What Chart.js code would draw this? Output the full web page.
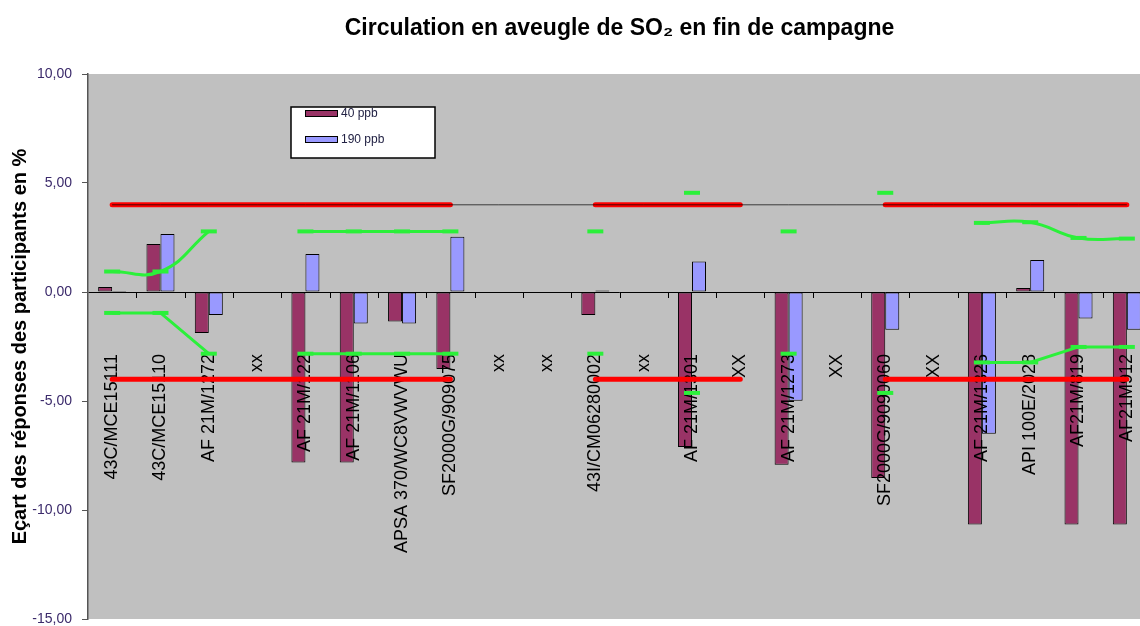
<!DOCTYPE html>
<html lang="fr">
<head>
<meta charset="UTF-8">
<title>Circulation en aveugle de SO2 en fin de campagne</title>
<script src="https://cdn.jsdelivr.net/npm/chart.js"></script>
<style>
  html, body { margin: 0; padding: 0; background: #fff; overflow: hidden; }
  #chart { display: block; }
</style>
</head>
<body>
<canvas id="chart" width="1160" height="626"></canvas>
<script>
// analyseurs (xx = pas de réponse)
const categories = [
  '43C/MCE15111', '43C/MCE15110', 'AF 21M/1272', 'xx', 'AF 21M/122', 'AF 21M/1106',
  'APSA 370/WC8VWVWU', 'SF2000G/909075', 'xx', 'xx', '43I/CM06280002', 'xx',
  'AF 21M/1301', 'XX', 'AF 21M/1273', 'XX', 'SF2000G/9090060', 'XX',
  'AF 21M/1326', 'API 100E/2028', 'AF21M/819', 'AF21M912'
];

const serie40 = [0.23, 2.2, -1.88, null, -7.82, -7.82, -1.35, -3.53, null, null, -1.06, null,
  -7.11, null, -7.92, null, -8.53, null, -10.67, 0.18, -10.67, -10.67];
const serie190 = [0.05, 2.66, -1.06, null, 1.74, -1.45, -1.45, 2.54, null, null, 0.07, null,
  1.4, null, -4.99, null, -1.73, null, -6.5, 1.47, -1.22, -1.73];

// limites +/- 4 %
const limiteHaut = [4, 4, 4, 4, 4, 4, 4, 4, null, null, 4, 4, 4, 4, null, null, 4, 4, 4, 4, 4, 4];
const limiteBas = [-4, -4, -4, -4, -4, -4, -4, -4, null, null, -4, -4, -4, -4, null, null, -4, -4, -4, -4, -4, -4];
const repere = [4, 4, 4, 4, 4, 4, 4, 4, 4, 4, 4, 4, 4, 4, 4, 4, 4, 4, 4, 4, 4, 4];

// incertitudes
const incertHaut = [0.94, 0.94, 2.78, null, 2.78, 2.78, 2.78, 2.78, null, null, 2.78, null,
  4.55, null, 2.78, null, 4.55, null, 3.17, 3.2, 2.48, 2.45];
const incertBas = [-0.96, -0.96, -2.83, null, -2.83, -2.83, -2.83, -2.83, null, null, -2.83, null,
  -4.63, null, -2.83, null, -4.63, null, -3.23, -3.23, -2.52, -2.52];

const yMin = -15, yMax = 10, yStep = 5;

const POLICE = '"Liberation Sans", Arial, sans-serif';
const VERT = '#2BF03A';

const decor = {
  id: 'decor',
  beforeDraw(chart) {
    const { ctx, chartArea: a } = chart;
    ctx.save();
    ctx.fillStyle = '#C0C0C0';
    ctx.fillRect(a.left, a.top, a.right - a.left, a.bottom - a.top);
    ctx.restore();
  },
  afterDatasetDraw(chart, args) {
    // étiquettes dessinées sur les barres, sous les lignes (la série 0 est dessinée en dernier)
    if (args.index !== 0) return;
    const ctx = chart.ctx, x = chart.scales.x, y = chart.scales.y;
    const y0 = y.getPixelForValue(0);
    ctx.save();
    ctx.strokeStyle = '#000';
    ctx.lineWidth = 1;
    for (let i = 1; i < categories.length; i++) {
      const px = Math.round((x.getPixelForValue(i - 1) + x.getPixelForValue(i)) / 2) + 0.5;
      ctx.beginPath();
      ctx.moveTo(px, y0);
      ctx.lineTo(px, y0 + 6);
      ctx.stroke();
    }
    ctx.font = '18px ' + POLICE;
    ctx.fillStyle = '#000';
    ctx.textAlign = 'right';
    ctx.textBaseline = 'middle';
    categories.forEach((c, i) => {
      ctx.save();
      ctx.translate(x.getPixelForValue(i), y0 + 62);
      ctx.rotate(-Math.PI / 2);
      ctx.fillText(c, 0, 0);
      ctx.restore();
    });
    ctx.restore();
  },
  afterDraw(chart) {
    const ctx = chart.ctx, a = chart.chartArea;
    const bx = a.left + 203, by = a.top + 33;
    ctx.save();
    ctx.fillStyle = '#fff';
    ctx.strokeStyle = '#000';
    ctx.lineWidth = 1.5;
    ctx.fillRect(bx, by, 144, 51);
    ctx.strokeRect(bx, by, 144, 51);
    ctx.font = '12px ' + POLICE;
    ctx.textBaseline = 'middle';
    [0, 1].forEach(i => {
      const ds = chart.data.datasets[i];
      const sy = by + 3 + i * 26;
      ctx.fillStyle = ds.backgroundColor;
      ctx.fillRect(bx + 14, sy, 32, 6);
      ctx.lineWidth = 1;
      ctx.strokeStyle = '#000';
      ctx.strokeRect(bx + 14.5, sy + 0.5, 32, 6);
      ctx.fillStyle = '#222244';
      ctx.fillText(ds.label, bx + 50, sy + 4);
    });
    ctx.restore();
  }
};

new Chart(document.getElementById('chart'), {
  type: 'bar',
  data: {
    labels: categories,
    datasets: [
      { label: '40 ppb', data: serie40, backgroundColor: '#993366', borderColor: '#000', borderWidth: 1,
        borderSkipped: false, categoryPercentage: 0.58, barPercentage: 1, order: 10 },
      { label: '190 ppb', data: serie190, backgroundColor: '#9999FF', borderColor: '#000', borderWidth: 1,
        borderSkipped: false, categoryPercentage: 0.58, barPercentage: 1, order: 10 },
      { type: 'line', label: 'limite +', data: limiteHaut, borderColor: '#FF0000', borderWidth: 5,
        borderCapStyle: 'round', pointRadius: 0, order: 4 },
      { type: 'line', label: 'limite -', data: limiteBas, borderColor: '#FF0000', borderWidth: 5,
        borderCapStyle: 'round', pointRadius: 0, order: 4 },
      { type: 'line', label: 'repère', data: repere, borderColor: 'rgba(0,0,0,0.7)', borderWidth: 1,
        pointRadius: 0, order: 3 },
      { type: 'line', label: 'incertitude +', data: incertHaut, borderColor: VERT, borderWidth: 3,
        tension: 0.45, pointStyle: 'line', pointRadius: 8, pointBorderWidth: 4,
        pointBorderColor: VERT, order: 2 },
      { type: 'line', label: 'incertitude -', data: incertBas, borderColor: VERT, borderWidth: 3,
        tension: 0, pointStyle: 'line', pointRadius: 8, pointBorderWidth: 4,
        pointBorderColor: VERT, order: 1 }
    ]
  },
  options: {
    responsive: false,
    animation: false,
    layout: { autoPadding: false, padding: { left: 0, right: 9, bottom: 7 } },
    scales: {
      x: { display: false, offset: true },
      y: {
        min: yMin, max: yMax,
        ticks: {
          stepSize: yStep,
          padding: 10,
          color: '#3b2a6b',
          font: { family: POLICE, size: 14 },
          callback: v => v.toFixed(2).replace('.', ',')
        },
        grid: {
          color: c => (c.tick && c.tick.value === 0) ? '#000' : 'rgba(0,0,0,0)',
          tickColor: '#555',
          tickLength: 6,
          lineWidth: 1
        },
        border: { display: true, color: '#555', width: 1.5 },
        title: {
          display: true,
          text: 'Eçart des réponses des participants en %',
          color: '#000',
          font: { family: POLICE, size: 20, weight: 'bold' },
          padding: { top: 8, bottom: 0 }
        },
        afterFit(scale) {
          scale.width = 88;
          scale.paddingTop = 7;
          scale.paddingBottom = 7;
        }
      }
    },
    plugins: {
      legend: { display: false },
      tooltip: { enabled: false },
      title: {
        display: true,
        fullSize: false,
        text: 'Circulation en aveugle de SO₂ en fin de campagne',
        color: '#000',
        font: { family: POLICE, size: 23, weight: 'bold' },
        padding: { top: 15, bottom: 31.4 }
      }
    }
  },
  plugins: [decor]
});
</script>
</body>
</html>
